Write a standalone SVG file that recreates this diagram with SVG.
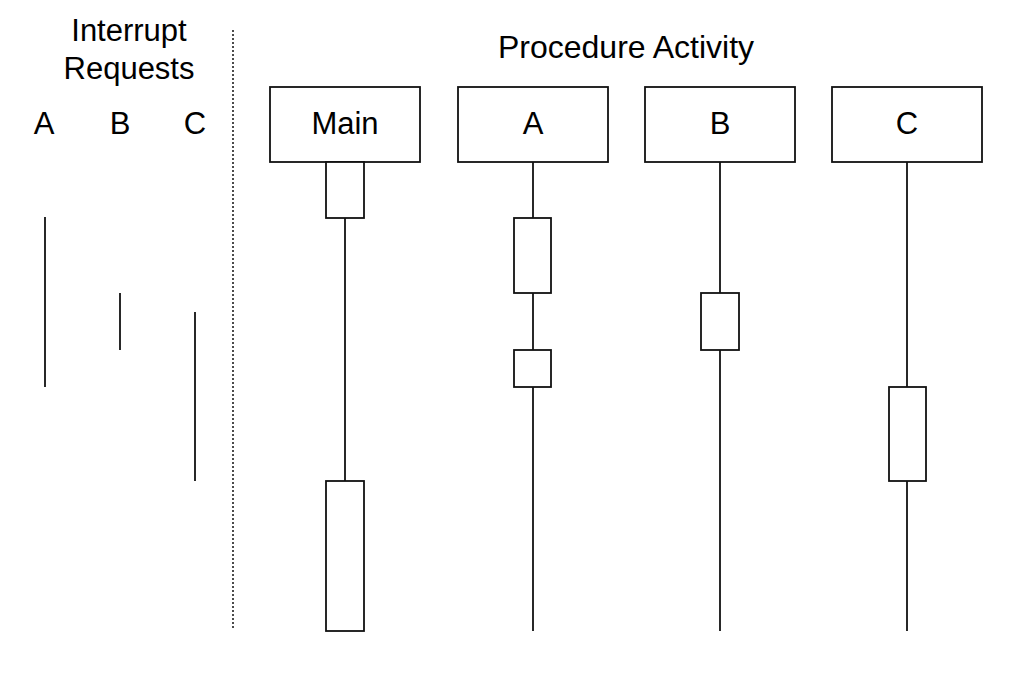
<svg xmlns="http://www.w3.org/2000/svg" width="1010" height="676" viewBox="0 0 1010 676">
<style>
.t{font-family:"Liberation Sans",Arial,sans-serif;font-size:31px;fill:#000;text-anchor:middle}
.b{fill:#fff;stroke:#111;stroke-width:1.8}
.l{stroke:#111;stroke-width:1.8;fill:none}
</style>
<rect width="1010" height="676" fill="#fff"/>
<g id="header">
<text class="t" x="129" y="41">Interrupt</text>
<text class="t" x="129" y="79">Requests</text>
<text class="t" x="626" y="58" style="font-size:32px">Procedure Activity</text>
<text class="t" x="44" y="134">A</text>
<text class="t" x="120" y="134">B</text>
<text class="t" x="195" y="134">C</text>
<line x1="233" y1="30" x2="233" y2="629" stroke="#111" stroke-width="1.5" stroke-dasharray="2,2"/>
</g>
<g id="interrupts">
<line class="l" x1="45" y1="217" x2="45" y2="387"/>
<line class="l" x1="120" y1="293" x2="120" y2="350"/>
<line class="l" x1="195" y1="312" x2="195" y2="481"/>
</g>
<g id="connectors">
<line class="l" x1="345" y1="218" x2="345" y2="481"/>
<line class="l" x1="533" y1="162" x2="533" y2="631"/>
<line class="l" x1="720" y1="162" x2="720" y2="631"/>
<line class="l" x1="907" y1="162" x2="907" y2="631"/>
</g>
<g id="node-main">
<rect class="b" x="270" y="87" width="150" height="75"/>
<text class="t" x="345" y="134">Main</text>
<rect class="b" x="326" y="162" width="38" height="56"/>
<rect class="b" x="326" y="481" width="38" height="150"/>
</g>
<g id="node-a">
<rect class="b" x="458" y="87" width="150" height="75"/>
<text class="t" x="533" y="134">A</text>
<rect class="b" x="514" y="218" width="37" height="75"/>
<rect class="b" x="514" y="350" width="37" height="37"/>
</g>
<g id="node-b">
<rect class="b" x="645" y="87" width="150" height="75"/>
<text class="t" x="720" y="134">B</text>
<rect class="b" x="701" y="293" width="38" height="57"/>
</g>
<g id="node-c">
<rect class="b" x="832" y="87" width="150" height="75"/>
<text class="t" x="907" y="134">C</text>
<rect class="b" x="889" y="387" width="37" height="94"/>
</g>
</svg>
